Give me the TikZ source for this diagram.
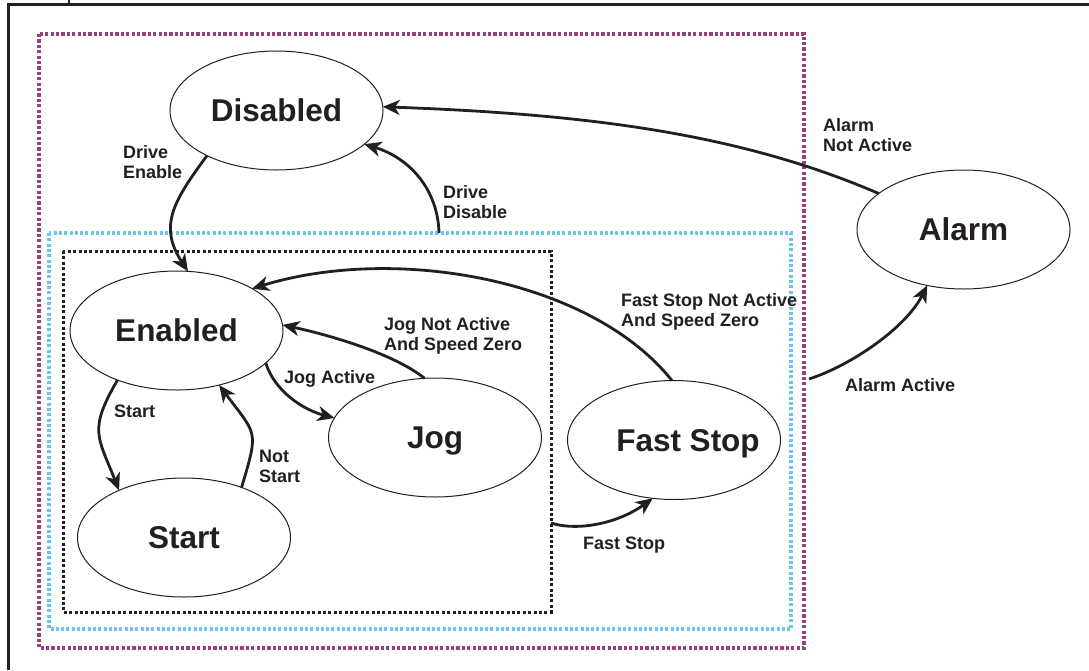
\documentclass[tikz,border=0pt]{standalone}
\usepackage{fontspec}
\setmainfont{Liberation Sans}
\usetikzlibrary{shapes.geometric,arrows.meta}
\definecolor{ink}{RGB}{35,31,32}
\definecolor{purp}{RGB}{150,63,122}
\definecolor{skyb}{RGB}{108,196,240}
\tikzset{
  statebox/.style={ellipse, draw=ink, line width=1pt, minimum width=213pt, minimum height=119pt,
    inner sep=0pt, outer sep=0pt, text=ink, font=\fontsize{31.5}{36}\selectfont\bfseries,
    text height=22.5pt, text depth=0pt},
  trans/.style={draw=ink, line width=2.8pt, -{Stealth[length=17pt,width=15pt,inset=5pt]}},
  lab/.style={text=ink, font=\fontsize{18}{20}\selectfont\bfseries, align=left, inner sep=0pt, anchor=north west},
  frameline/.style={draw=ink, line width=2.5pt},
  purpbox/.style={draw=purp, line width=3.3pt, dash pattern=on 3.2pt off 2.2pt},
  bluebox/.style={draw=skyb, line width=3.1pt, dash pattern=on 3pt off 2.3pt},
  blackbox/.style={draw=ink, line width=3pt, dash pattern=on 3pt off 2.4pt}
}
\begin{document}
\begin{tikzpicture}[x=1pt,y=-1pt]
\useasboundingbox (0,0) rectangle (1089,670);
\fill[white] (0,0) rectangle (1089,670);
% outer frame
\draw[frameline] (8.3,670) -- (8.3,4.5) -- (1089,4.5);
\draw[frameline] (69,0) -- (69,4.5);
% group boxes
\draw[purpbox] (39,34) rectangle (804,648);
\draw[bluebox] (49,233) rectangle (791,629);
\draw[blackbox] (63,251) rectangle (551,612);
% states
\node[statebox] (dis) at (276.5,110.5) {Disabled};
\node[statebox] (en) at (176.5,330.5) {Enabled};
\node[statebox] (st) at (184,537.5) {Start};
\node[statebox] (jog) at (435,437.5) {Jog};
\node[statebox] (fs) at (674,440) {\makebox[0pt]{\hspace{28pt}Fast Stop}};
\node[statebox] (al) at (963.5,229.5) {Alarm};
% free ends on the group boxes
\coordinate (dd) at (439,233);
\coordinate (aa) at (809,379);
\coordinate (fsin) at (551,523);
% transitions
\draw[trans] (dis.213) .. controls (173,201.5) and (158.4,226.25) .. (en.79);
\draw[trans] (dd) .. controls (438,190) and (410,158) .. (dis.339);
\draw[trans] (al.157) .. controls (738.5,133) and (585,114) .. (dis.2);
\draw[trans] (aa) .. controls (852,365) and (906,327.5) .. (al.237);
\draw[trans] (fs.92) .. controls (591,279) and (396,244.5) .. (en.29);
\draw[trans] (jog.100) .. controls (393,353) and (327,334.5) .. (en.3);
\draw[trans] (en.340) .. controls (275,392) and (304,410) .. (jog.169);
\draw[trans] (en.220) .. controls (88.5,430) and (97.5,436) .. (st.144);
\draw[trans] (st.41) .. controls (259,429) and (256.8,435.6) .. (en.308);
\draw[trans] (fsin) .. controls (580,532) and (620,522) .. (fs.250);
% labels
\node[lab] (lde) at (123,145) {Drive\\Enable};
\node[lab] (ldd) at (443,185) {Drive\\Disable};
\node[lab] (lana) at (823,118) {Alarm\\Not Active};
\node[lab] (laa) at (845,378) {Alarm Active};
\node[lab] (ljna) at (384,317) {Jog Not Active\\And Speed Zero};
\node[lab] (lja) at (284,370) {Jog Active};
\node[lab] (lst) at (114,405) {Start};
\node[lab] (lns) at (259,450) {Not\\Start};
\node[lab] (lfsna) at (621,293) {Fast Stop Not Active\\And Speed Zero};
\node[lab] (lfs) at (583,537) {Fast Stop};
\end{tikzpicture}
\end{document}
